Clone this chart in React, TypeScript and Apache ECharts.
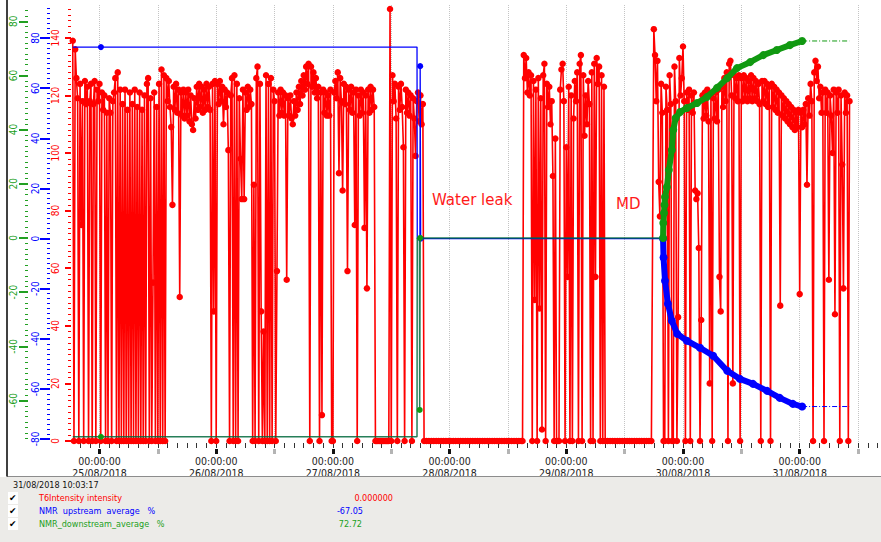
import React, { useEffect, useRef } from "react";
import * as echarts from "echarts";

// ---------- axis text ----------
const DAY_LABELS = ["25/08/2018", "26/08/2018", "27/08/2018", "28/08/2018", "29/08/2018", "30/08/2018", "31/08/2018"];
const TIME_LABEL = "00:00:00";
const DAY_TICK_HOURS = [0, 24, 48, 72, 96, 120, 144];
const HALF_DAY_TICK_HOURS = [12, 36, 60, 84, 108, 132, 156];

const RED_TICKS = [0, 20, 40, 60, 80, 100, 120, 140];
const BLUE_TICKS = [-80, -60, -40, -20, 0, 20, 40, 60, 80];
const GREEN_TICKS = [-60, -40, -20, 0, 20, 40, 60, 80];

// ---------- T6Intensity intensity (hours counted from 25/08 00:00) ----------
// 24/08 18:30 - 23:45, every 15 min
const INT_24_EVE = [139, 0, 136, 126, 119, 0, 124, 75, 118, 0, 125, 117, 123, 0, 118, 124, 0, 117, 125, 0, 122, 118];
// 25/08, every 15 min
const INT_25 = [
  124, 0, 121, 115, 120, 0, 114, 0, 119, 114, 0, 118, 121, 126, 0, 128, 0, 122, 0, 117, 0, 122, 0, 115,
  0, 121, 0, 117, 0, 122, 0, 116, 0, 121, 0, 115, 0, 120, 0, 124, 126, 0, 119, 0, 55, 121, 0, 116,
  0, 124, 0, 129, 0, 127, 0, 126, 118, 125, 116, 109, 82, 123, 115, 124, 114, 122, 50, 121, 113, 122, 112, 121,
  113, 122, 111, 120, 110, 108, 119, 112, 123, 115, 124, 116, 123, 114, 122, 115, 124, 116, 123, 115, 0, 124, 45, 125,
];
// 26/08, every 15 min
const INT_26 = [
  0, 124, 117, 125, 118, 123, 110, 122, 116, 121, 101, 0, 120, 126, 0, 127, 0, 124, 0, 119, 98, 84, 122, 84,
  121, 115, 123, 116, 122, 117, 0, 89, 0, 126, 130, 0, 124, 45, 0, 38, 0, 127, 0, 124, 0, 126, 0, 122,
  118, 0, 59, 121, 113, 122, 114, 121, 113, 120, 56, 119, 113, 120, 112, 110, 118, 113, 121, 115, 123, 117, 125, 120,
  127, 122, 130, 124, 131, 0, 130, 123, 128, 121, 126, 119, 123, 0, 121, 9, 122, 114, 121, 113, 120, 113, 122, 0,
];
// 27/08 00:00 - 18:30, every 15 min
const INT_27 = [
  0, 121, 125, 119, 128, 93, 126, 118, 87, 124, 117, 123, 59, 122, 115, 123, 114, 121, 75, 122, 0, 120, 113, 122,
  114, 121, 74, 120, 53, 122, 114, 123, 115, 122, 116, 0, 0, 0, 0, 0, 0, 0, 0, 0, 0, 0, 0, 150,
  0, 127, 118, 124, 112, 0, 123, 115, 124, 116, 102, 0, 122, 114, 121, 113, 120, 0, 119, 112, 99, 118, 121, 111,
  120, 110, 117,
];
// 27/08 18:45 - 28/08 14:45, every 30 min
const INT_27_28_NIGHT = [
  0, 0, 0, 0, 0, 0, 0, 0, 0, 0, 0, 0, 0, 0, 0, 0, 0, 0, 0, 0, 0,
  0, 0, 0, 0, 0, 0, 0, 0, 0, 0, 0, 0, 0, 0, 0, 0, 0, 0, 0, 0,
];
// 28/08 15:00 - 29/08 08:00, every 15 min
const INT_28_29 = [
  0, 134, 126, 133, 121, 128, 120, 127, 0, 125, 49, 122, 0, 126, 46, 119, 4, 127, 131, 0, 124, 116, 123, 110,
  118, 92, 0, 105, 0, 0, 0, 122, 129, 131, 118, 0, 102, 57, 123, 0, 120, 0, 112, 125, 118, 128, 0, 131,
  134, 0, 127, 106, 120, 110, 125, 117, 0, 128, 0, 131, 57, 133, 124, 130, 0, 127, 0, 123, 0,
];
// 29/08 08:30 - 17:30, every 30 min
const INT_29_DAY = [0, 0, 0, 0, 0, 0, 0, 0, 0, 0, 0, 0, 0, 0, 0, 0, 0, 0, 0];
// 29/08 18:00 - 23:45, every 15 min
const INT_29_EVE = [143, 134, 118, 132, 90, 78, 124, 114, 0, 0, 123, 115, 0, 127, 117, 0, 0, 130, 118, 0, 43, 133, 120, 126];
// 30/08, every 15 min
const INT_30 = [
  137, 118, 0, 121, 115, 122, 0, 120, 114, 121, 87, 84, 86, 67, 0, 42, 120, 112, 121, 113, 122, 111, 20, 120,
  0, 119, 112, 121, 111, 122, 57, 45, 123, 116, 126, 118, 128, 0, 131, 132, 120, 20, 127, 119, 126, 118, 127, 0,
  126, 118, 127, 119, 126, 118, 125, 119, 127, 118, 126, 119, 125, 118, 124, 117, 0, 125, 118, 125, 117, 124, 116, 123,
  0, 124, 116, 123, 115, 122, 114, 121, 47, 120, 113, 119, 112, 118, 111, 117, 110, 116, 109, 115, 108, 114, 109, 115,
];
// 31/08 00:00 - 10:15, every 15 min
const INT_31 = [
  51, 114, 109, 115, 110, 117, 89, 119, 113, 124, 118, 0, 128, 132, 125, 130, 119, 123, 114, 121, 0, 122, 114, 121,
  56, 120, 113, 100, 122, 44, 121, 114, 122, 0, 120, 96, 53, 121, 114, 120, 0, 118,
];

// [start hour, step in hours, values]
const INTENSITY_BLOCKS: [number, number, number[]][] = [
  [-5.5, 0.25, INT_24_EVE],
  [0, 0.25, INT_25],
  [24, 0.25, INT_26],
  [48, 0.25, INT_27],
  [66.75, 0.5, INT_27_28_NIGHT],
  [87, 0.25, INT_28_29],
  [104.5, 0.5, INT_29_DAY],
  [114, 0.25, INT_29_EVE],
  [120, 0.25, INT_30],
  [144, 0.25, INT_31],
];

// ---------- NMR upstream average % ----------
const UP_STEP_HOURS = [-5.5, 0.3, 65.3, 65.35, 65.9, 65.95, 66.05, 115.9];
const UP_STEP_VALUES = [76.4, 76.4, 76.4, 0, 0, 68.8, 0, 0];
const UP_STEP_MARKED = [0.3, 65.95, 66.05];
const UP_CURVE_HOURS = [115.9, 116.0, 116.3, 116.9, 117.7, 118.8, 120.8, 123.5, 126.2, 129.1, 131.7, 134.4, 137.3, 139.9, 142.6, 144.5];
const UP_CURVE_VALUES = [0, -7.6, -16.8, -26, -32.8, -38, -40.8, -43.6, -46.8, -52.8, -56, -58, -60.8, -63.6, -66, -67.05];
const UP_HOLD_HOURS = [144.5, 154.2];
const UP_HOLD_VALUES = [-67.05, -67.05];

// ---------- NMR downstream average % ----------
const DOWN_STEP_HOURS = [-5.5, 0.3, 65.3, 65.35, 65.8, 65.85, 65.95, 115.9];
const DOWN_STEP_VALUES = [-73.4, -73.4, -73.4, 0, 0, -63.5, 0, 0];
const DOWN_STEP_MARKED = [0.3, 65.85, 65.95];
const DOWN_CURVE_HOURS = [115.9, 115.95, 116.1, 116.2, 116.3, 116.7, 117.1, 117.7, 118.0, 118.5, 119.4, 120.8, 122.9, 124.9, 127.0, 129.1, 131.1, 133.8, 136.5, 139.3, 142.0, 144.5];
const DOWN_CURVE_VALUES = [0, 5.5, 9.2, 12.2, 15.1, 18.8, 25.1, 32.5, 39.9, 44.3, 46.5, 48.0, 49.8, 52.0, 55.4, 59.0, 62.7, 64.9, 67.5, 69.4, 71.2, 72.72];
const DOWN_HOLD_HOURS = [144.5, 154.2];
const DOWN_HOLD_VALUES = [72.72, 72.72];

// ---------- legend panel ----------
const CURSOR_TIME = "31/08/2018 10:03:17";
const LEGEND_NAMES = ["T6Intensity intensity", "NMR  upstream  average   %", "NMR_downstream_average   %"];
const LEGEND_VALUES = ["0.000000", "-67.05", "72.72"];
const ANNOTATIONS = ["Water leak", "MD"];

const RED = "#ff0000";
const BLUE = "#0000ff";
const GREEN = "#119911";
const GREEN_TEXT = "#22a022";
const AXIS_FONT = "'DejaVu Sans Condensed', 'DejaVu Sans', sans-serif";

const X_MIN = -5.86;
const X_MAX = 160.31;

function pairs(h: number[], v: number[]) {
  return h.map((x, i) => [x, v[i]]);
}

function marked(h: number[], v: number[], marks: number[]) {
  return h.map((x, i) => ({
    value: [x, v[i]],
    symbol: marks.indexOf(x) >= 0 ? "circle" : "none",
  }));
}

function yAxisCfg(color: string, offset: number, min: number, max: number, ticks: number[], tickLen: number, margin: number) {
  return {
    type: "value",
    position: "left",
    offset,
    min,
    max,
    minInterval: 20,
    maxInterval: 20,
    axisLine: { show: false, onZero: false },
    axisTick: { show: true, customValues: ticks, length: tickLen, lineStyle: { color, width: 2 } },
    minorTick: { show: true, splitNumber: 10, length: 3, lineStyle: { color, width: 1 } },
    axisLabel: { show: true, customValues: ticks, rotate: 90, color, fontSize: 10, fontFamily: AXIS_FONT, margin },
    splitLine: { show: false },
    minorSplitLine: { show: false },
  };
}

export default function App() {
  const ref = useRef<HTMLDivElement>(null);

  useEffect(() => {
    if (!ref.current) return;
    const chart = echarts.init(ref.current, undefined, { renderer: "svg" });

    const intensity: number[][] = [];
    INTENSITY_BLOCKS.forEach(([start, step, vals]) => {
      vals.forEach((v, i) => intensity.push([start + i * step, v]));
    });

    const smallTicks: number[] = [];
    for (let h = -4; h <= 160; h += 2) smallTicks.push(h);

    const rowY = [498, 511, 524];
    const rowColors = [RED, BLUE, GREEN_TEXT];
    const valueRight = [393, 363, 362];

    const legendEls: any[] = [];
    rowY.forEach((y, i) => {
      legendEls.push({
        type: "rect",
        shape: { x: 8, y: y - 6, width: 10, height: 12 },
        style: { fill: "#ffffff" },
      });
      legendEls.push({
        type: "text",
        style: { text: "\u2714", x: 9, y, fill: "#000", fontSize: 9, fontFamily: "DejaVu Sans", verticalAlign: "middle", textVerticalAlign: "middle" },
      });
      legendEls.push({
        type: "text",
        style: { text: LEGEND_NAMES[i], x: 39, y, fill: rowColors[i], fontSize: 9, fontFamily: AXIS_FONT, verticalAlign: "middle", textVerticalAlign: "middle" },
      });
      legendEls.push({
        type: "text",
        style: {
          text: LEGEND_VALUES[i], x: valueRight[i], y, fill: rowColors[i], fontSize: 9, fontFamily: AXIS_FONT,
          align: "right", textAlign: "right", verticalAlign: "middle", textVerticalAlign: "middle",
        },
      });
    });

    const gridLine = { show: true, lineStyle: { color: "#c4c4c4", type: "dotted", width: 1 } };

    const option: any = {
      animation: false,
      backgroundColor: "#ffffff",
      grid: { left: 71, right: 2, top: 5, bottom: 99, containLabel: false },
      xAxis: [
        {
          type: "value", position: "bottom", min: X_MIN, max: X_MAX,
          axisLine: { show: false, onZero: false },
          axisTick: { show: true, customValues: smallTicks, length: 5, lineStyle: { color: "#333", width: 1 } },
          axisLabel: { show: false },
          splitLine: { show: false },
        },
        {
          type: "value", position: "bottom", offset: 6, min: X_MIN, max: X_MAX,
          axisLine: { show: false, onZero: false },
          axisTick: { show: true, customValues: HALF_DAY_TICK_HOURS, length: 5, lineStyle: { color: "#b4b4b4", width: 3 } },
          axisLabel: { show: false },
          splitLine: gridLine,
        },
        {
          type: "value", position: "bottom", offset: 6, min: X_MIN, max: X_MAX,
          axisLine: { show: false, onZero: false },
          axisTick: { show: true, customValues: DAY_TICK_HOURS, length: 5, lineStyle: { color: "#111", width: 3 } },
          axisLabel: {
            show: true, customValues: DAY_TICK_HOURS, margin: 6, color: "#222", fontSize: 10.5, lineHeight: 12, fontFamily: AXIS_FONT,
            formatter: (v: number) => TIME_LABEL + "\n" + (DAY_LABELS[Math.round(v / 24)] || ""),
          },
          splitLine: gridLine,
        },
      ],
      yAxis: [
        yAxisCfg(RED, 0, -0.7, 151.4, RED_TICKS, 6, 11),
        yAxisCfg(BLUE, 21, -81.6, 93.2, BLUE_TICKS, 10, 10),
        yAxisCfg(GREEN_TEXT, 43, -75.7, 86, GREEN_TICKS, 9, 10),
      ],
      series: [
        {
          name: "T6Intensity intensity", type: "line", xAxisIndex: 0, yAxisIndex: 0, data: intensity,
          symbol: "circle", symbolSize: 6.5, showSymbol: true, showAllSymbol: true,
          itemStyle: { color: RED }, lineStyle: { color: RED, width: 1.6 }, z: 2,
        },
        {
          name: "upStep", type: "line", xAxisIndex: 0, yAxisIndex: 1,
          data: marked(UP_STEP_HOURS, UP_STEP_VALUES, UP_STEP_MARKED),
          symbolSize: 6, itemStyle: { color: BLUE }, lineStyle: { color: BLUE, width: 1.3 }, z: 3,
        },
        {
          name: "downStep", type: "line", xAxisIndex: 0, yAxisIndex: 2,
          data: marked(DOWN_STEP_HOURS, DOWN_STEP_VALUES, DOWN_STEP_MARKED),
          symbolSize: 6, itemStyle: { color: GREEN }, lineStyle: { color: "rgba(0,105,60,0.85)", width: 1.5 }, z: 4,
        },
        {
          name: "upCurve", type: "line", xAxisIndex: 0, yAxisIndex: 1, data: pairs(UP_CURVE_HOURS, UP_CURVE_VALUES),
          symbol: "circle", symbolSize: 8, itemStyle: { color: BLUE }, lineStyle: { color: BLUE, width: 6 }, z: 5,
        },
        {
          name: "upHold", type: "line", xAxisIndex: 0, yAxisIndex: 1, data: pairs(UP_HOLD_HOURS, UP_HOLD_VALUES),
          symbol: "none", lineStyle: { color: BLUE, width: 1, type: [5, 2, 1, 2] }, z: 5,
        },
        {
          name: "downCurve", type: "line", xAxisIndex: 0, yAxisIndex: 2, data: pairs(DOWN_CURVE_HOURS, DOWN_CURVE_VALUES),
          symbol: "circle", symbolSize: 8, itemStyle: { color: GREEN }, lineStyle: { color: GREEN, width: 6 }, z: 6,
        },
        {
          name: "downHold", type: "line", xAxisIndex: 0, yAxisIndex: 2, data: pairs(DOWN_HOLD_HOURS, DOWN_HOLD_VALUES),
          symbol: "none", lineStyle: { color: GREEN, width: 1, type: [5, 2, 1, 2] }, z: 6,
        },
      ],
      graphic: {
        elements: [
          { type: "rect", shape: { x: 0, y: 477, width: 881, height: 65 }, style: { fill: "#ecebe8" }, z: 100 },
          { type: "line", shape: { x1: 7, y1: 476.5, x2: 881, y2: 476.5 }, style: { stroke: "#8c8c8c", lineWidth: 1 }, z: 101 },
          { type: "line", shape: { x1: 7, y1: 0, x2: 7, y2: 476.5 }, style: { stroke: "#000", lineWidth: 1.5 }, z: 101 },
          {
            type: "text", z: 102,
            style: { text: CURSOR_TIME, x: 13, y: 485, fill: "#111", fontSize: 9, fontFamily: AXIS_FONT, verticalAlign: "middle", textVerticalAlign: "middle" },
          },
          ...legendEls.map((e) => ({ ...e, z: 102 })),
          {
            type: "text", z: 50,
            style: { text: ANNOTATIONS[0], x: 432, y: 200, fill: "#ff1a1a", fontSize: 15, fontFamily: "DejaVu Sans", verticalAlign: "middle", textVerticalAlign: "middle" },
          },
          {
            type: "text", z: 50,
            style: { text: ANNOTATIONS[1], x: 616, y: 204, fill: "#ff1a1a", fontSize: 15, fontFamily: "DejaVu Sans", verticalAlign: "middle", textVerticalAlign: "middle" },
          },
        ],
      },
    };

    chart.setOption(option);
    return () => chart.dispose();
  }, []);

  return <div ref={ref} style={{ position: "fixed", left: 0, top: 0, width: 881, height: 542 }} />;
}
